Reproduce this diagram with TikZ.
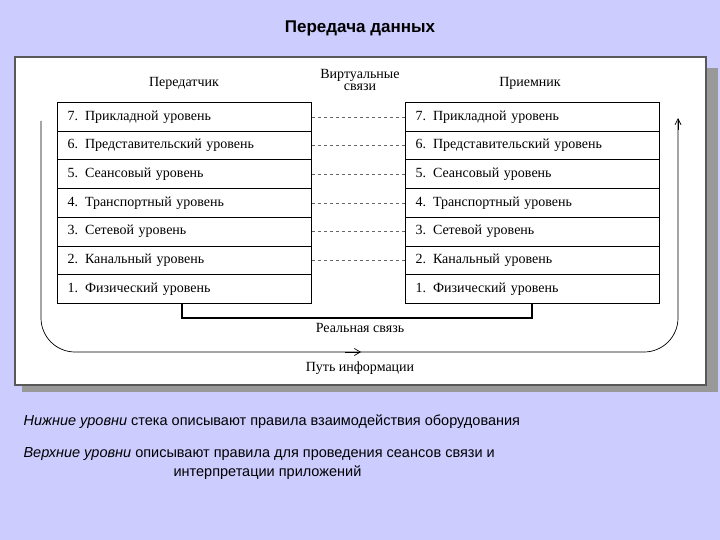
\documentclass[tikz,border=0pt]{standalone}
\usepackage{fontspec}
\usetikzlibrary{arrows.meta}
\setmainfont{Liberation Serif}
\newfontfamily\arialf{Liberation Sans}
\definecolor{bgc}{HTML}{CCCCFF}
\definecolor{shd}{HTML}{999999}
\begin{document}
\begin{tikzpicture}[x=1pt,y=-1pt,
  layer/.style={draw,line width=1pt,minimum width=254pt,minimum height=28.7pt,anchor=north west,inner sep=0pt,text width=234pt,align=left,font=\fontsize{14}{16}\selectfont},
  lbl/.style={font=\fontsize{14}{15}\selectfont,align=center},
  vline/.style={dashed,line width=0.6pt,gray!80!black}]
\fill[bgc] (0,0) rectangle (720,540);
\useasboundingbox (0,0) rectangle (720,540);
\node[font=\arialf\bfseries\fontsize{17}{20}\selectfont] (title) at (360,28) {Передача данных};
\fill[shd] (22,68) rectangle (718,392);
\draw[fill=white,draw=gray!70!black,line width=1.2pt] (15,57) rectangle (706,385);
\node[lbl] (tx) at (184,83) {Передатчик};
\node[lbl] (vs) at (360,80) {Виртуальные\\[-3pt]связи};
\node[lbl] (rx) at (530,83) {Приемник};
\foreach \i/\t in {7/Прикладной уровень,6/Представительский уровень,5/Сеансовый уровень,4/Транспортный уровень,3/Сетевой уровень,2/Канальный уровень,1/Физический уровень}{
  \pgfmathsetmacro\yy{102+(7-\i)*28.7}
  \node[layer] (L\i) at (57,\yy) {\i. \t};
  \node[layer] (R\i) at (405,\yy) {\i. \t};
}
\foreach \i in {7,6,5,4,3,2}{\draw[vline] (L\i.east) -- (R\i.west);}
\coordinate (ra) at (182,318);
\coordinate (rb) at (532,318);
\draw[line width=2.5pt] (L1.south -| ra) -- (ra) -- (rb) -- (R1.south -| rb);
\node[lbl] (real) at (360,328) {Реальная связь};
\coordinate (p0) at (41,121);
\coordinate (p1) at (678,121);
\draw[line width=0.7pt] (p0) -- (41,318) arc[start angle=180,end angle=90,radius=34] -- (644,352) arc[start angle=90,end angle=0,radius=34] -- (p1);
\draw[line width=0.7pt,-{Straight Barb[length=6pt,width=6pt]}] (678,130) -- (678,118);
\draw[line width=0.7pt,-{Straight Barb[length=6pt,width=7pt]}] (345,352) -- (361,352);
\node[lbl] (path) at (360,368) {Путь информации};
\node[font=\arialf\fontsize{14.5}{18}\selectfont,anchor=west] (t1) at (20,422) {\textit{Нижние уровни} стека описывают правила взаимодействия оборудования};
\node[font=\arialf\fontsize{14.5}{18}\selectfont,anchor=west] (t2) at (20,454) {\textit{Верхние уровни} описывают правила для проведения сеансов связи и};
\node[font=\arialf\fontsize{14.5}{18}\selectfont,anchor=west] (t3) at (170,473) {интерпретации приложений};
\end{tikzpicture}
\end{document}
